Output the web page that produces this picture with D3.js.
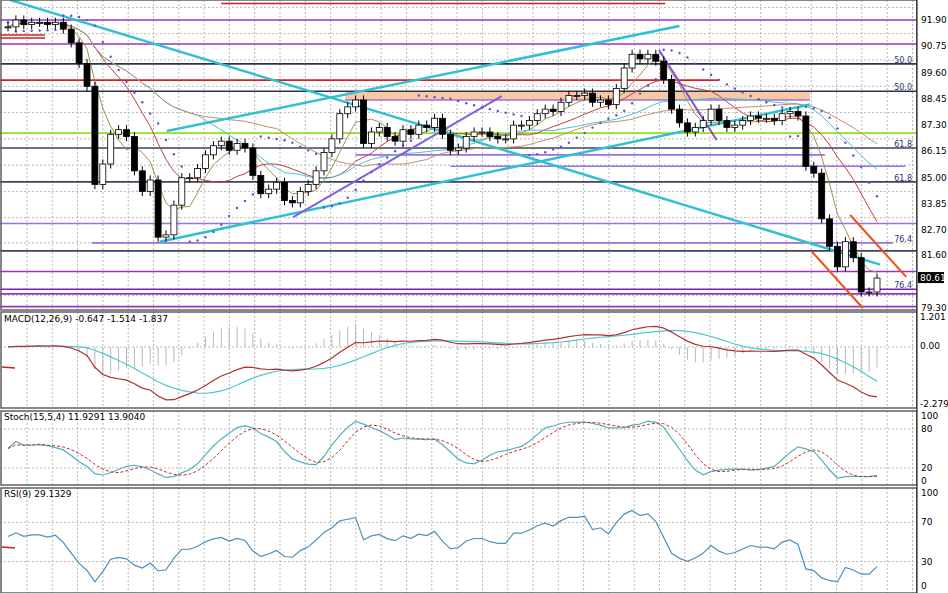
<!DOCTYPE html>
<html>
<head>
<meta charset="utf-8">
<script src="https://cdn.jsdelivr.net/npm/d3@7"></script>
<style>
  body { margin: 0; background: #fff; }
  text { font-family: Tahoma, "DejaVu Sans", sans-serif; font-size: 9px; fill: #000; }
</style>
</head>
<body>
<svg id="chart" width="948" height="593"></svg>
<script>
// daily closes
const closes = [91.6, 91.9, 91.7, 91.8, 91.8, 91.7, 91.8, 91.5, 90.9, 90.0,
  89.0, 84.7, 85.6, 86.9, 87.1, 86.8, 85.3, 84.4, 84.9, 82.4,
  82.5, 83.8, 85.0, 85.0, 85.4, 86.0, 86.4, 86.6, 86.2, 86.5,
  86.3, 85.1, 84.3, 84.5, 84.8, 84.0, 83.9, 84.4, 84.7, 85.3,
  86.1, 86.7, 87.8, 88.1, 88.4, 86.5, 87.0, 87.2, 86.8, 86.6,
  87.1, 86.9, 87.3, 87.2, 87.6, 86.9, 86.2, 86.3, 86.8, 87.0,
  87.0, 86.8, 86.7, 86.7, 87.3, 87.3, 87.5, 87.8, 88.0, 87.9,
  88.3, 88.6, 88.6, 88.7, 88.3, 88.4, 88.2, 88.9, 89.8, 90.4,
  90.2, 90.4, 90.1, 89.3, 88.0, 87.4, 87.0, 87.2, 87.5, 88.0,
  87.5, 87.2, 87.3, 87.5, 87.7, 87.6, 87.6, 87.5, 87.8, 87.9,
  87.7, 85.5, 85.2, 83.2, 82.0, 81.1, 82.2, 81.5, 80.0, 80.0, 80.61];

const priceTicks = [91.90, 90.75, 89.60, 88.45, 87.30, 86.15, 85.00, 83.85, 82.70, 81.60, 79.30];
const macdTicks = ['1.201', '0.00', '-2.279'];
const stochTicks = [100, 80, 20, 0];
const rsiTicks = [100, 70, 30, 0];

// horizontal levels: [price, colour, from index, to index, label]
const levels = [
  [92.62, '#d42020', 27, 83.2, ''],
  [91.90, '#9a30c8', -1, 115, ''],
  [90.85, '#9a30c8', -1, 115, ''],
  [89.98, '#303050', -1, 115, '50.0'],
  [89.27, '#d42020', -1, 89.9, ''],
  [88.78, '#303050', -1, 115, '50.0'],
  [88.40, '#9a70e0', 42.7, 101.5, ''],
  [86.95, '#90e020', -1, 115, ''],
  [86.30, '#404060', -1, 115, '61.8'],
  [86.00, '#9a70e0', 44, 103.4, ''],
  [85.50, '#9a70e0', 56, 113.6, ''],
  [84.82, '#404060', -1, 115, '61.8'],
  [83.00, '#9a70e0', -1, 115, ''],
  [82.15, '#9a70e0', 10.6, 112, '76.4'],
  [81.80, '#404060', -1, 115, ''],
  [80.90, '#9a30c8', -1, 115, ''],
  [80.12, '#8020c0', -1, 115, '76.4'],
  [79.92, '#9a30c8', -1, 115, ''],
  [79.36, '#9a30c8', -1, 115, '']
];

// trend lines: [i1, p1, i2, p2, colour, width]
const trends = [
  [0.3, 92.77, 110.4, 81.20, '#30c0d0', 2.5],
  [20.1, 87.04, 85.0, 91.64, '#30c0d0', 2.5],
  [19.2, 82.20, 101.5, 88.20, '#30c0d0', 2.5],
  [36.1, 83.28, 62.5, 88.57, '#8060e0', 2],
  [82.4, 90.59, 89.7, 86.65, '#8050d0', 2],
  [106.6, 83.37, 113.7, 80.66, '#f05010', 2],
  [101.8, 81.75, 108.2, 79.30, '#f05010', 2]
];

const svg = d3.select('#chart');
const W = 917;
const x = d3.scaleLinear().domain([0, 110]).range([8, 877]);
const y = d3.scaleLinear().domain([79.30, 91.90]).range([308, 20]);
const yMacd = d3.scaleLinear().domain([-2.279, 1.201]).range([404, 317]);
const yStoch = d3.scaleLinear().domain([0, 100]).range([481, 416]);
const yRsi = d3.scaleLinear().domain([0, 100]).range([591, 493]);

const panels = [[0, 310], [312, 408], [411, 485], [488, 593]];

// vertical grid
const vgrid = d3.range(27, W, 25.3);
panels.forEach(p => {
  svg.append('g').selectAll('line').data(vgrid).join('line')
    .attr('x1', d => d).attr('x2', d => d).attr('y1', p[0]).attr('y2', p[1])
    .attr('stroke', '#b8b8b8').attr('stroke-dasharray', '2,2');
});
function hgrid(vals, sc) {
  svg.append('g').selectAll('line').data(vals).join('line')
    .attr('x1', 0).attr('x2', W).attr('y1', d => sc(d)).attr('y2', d => sc(d))
    .attr('stroke', '#b8b8b8').attr('stroke-dasharray', '2,2');
}
hgrid(priceTicks.map(d => d + 0.55), y);
hgrid([0], yMacd);
hgrid([80, 20], yStoch);
hgrid([70, 30], yRsi);

// levels
const lv = svg.append('g');
levels.forEach(l => {
  if (l[0] === 88.40) {
    lv.append('rect').attr('x', x(l[2])).attr('width', x(l[3]) - x(l[2]))
      .attr('y', y(88.75)).attr('height', y(88.40) - y(88.75)).attr('fill', '#f8c8a0');
  }
  lv.append('line').attr('x1', Math.max(0, x(l[2]))).attr('x2', Math.min(W, x(l[3])))
    .attr('y1', y(l[0])).attr('y2', y(l[0])).attr('stroke', l[1]).attr('stroke-width', 1.6);
  if (l[4]) lv.append('text').attr('x', 912).attr('y', y(l[0]) - 1).attr('text-anchor', 'end')
    .style('fill', '#303070').style('font-size', '8px').text(l[4]);
});
lv.append('line').attr('x1', 0).attr('x2', 45).attr('y1', 35).attr('y2', 35).attr('stroke', '#d42020').attr('stroke-width', 1.5);
lv.append('line').attr('x1', 0).attr('x2', 45).attr('y1', 38).attr('y2', 38).attr('stroke', '#d42020').attr('stroke-width', 1.5);

// moving averages
function sma(a, n) { return a.map((v, i) => d3.mean(a.slice(Math.max(0, i - n + 1), i + 1))); }
function ema(a, n) { const k = 2 / (n + 1); let e = a[0]; return a.map(v => (e = v * k + e * (1 - k))); }
const line = (sc) => d3.line().x((d, i) => x(i)).y(d => sc(d));
[[sma(closes, 5), '#a09050'], [sma(closes, 12), '#c04040'], [sma(closes, 25), '#50c0d0'], [sma(closes, 35), '#c09070']]
  .forEach(m => svg.append('path').datum(m[0]).attr('d', line(y)).attr('fill', 'none').attr('stroke', m[1]).attr('stroke-width', 1));

// trend lines
svg.append('g').selectAll('line').data(trends).join('line')
  .attr('x1', d => x(d[0])).attr('y1', d => y(d[1])).attr('x2', d => x(d[2])).attr('y2', d => y(d[3]))
  .attr('stroke', d => d[4]).attr('stroke-width', d => d[5]);

// parabolic SAR
const hi = closes.map((c, i) => Math.max(c, i ? closes[i - 1] : c) + 0.2);
const lo = closes.map((c, i) => Math.min(c, i ? closes[i - 1] : c) - 0.2);
const sar = [];
let up = false, af = 0.02, ep = lo[0], s = hi[0];
for (let i = 0; i < closes.length; i++) {
  if (i > 0) {
    s = s + af * (ep - s);
    if (up && lo[i] < s) { up = false; s = ep; ep = lo[i]; af = 0.02; }
    else if (!up && hi[i] > s) { up = true; s = ep; ep = hi[i]; af = 0.02; }
    else if (up && hi[i] > ep) { ep = hi[i]; af = Math.min(0.2, af + 0.02); }
    else if (!up && lo[i] < ep) { ep = lo[i]; af = Math.min(0.2, af + 0.02); }
  }
  sar.push(s);
}
svg.append('g').selectAll('circle').data(sar).join('circle')
  .attr('cx', (d, i) => x(i)).attr('cy', d => y(d)).attr('r', 1.2).attr('fill', '#6050d0');

// candles
const cg = svg.append('g').selectAll('g').data(closes).join('g');
cg.append('line').attr('x1', (d, i) => x(i)).attr('x2', (d, i) => x(i))
  .attr('y1', (d, i) => y(hi[i])).attr('y2', (d, i) => y(lo[i])).attr('stroke', '#000');
cg.append('rect').attr('x', (d, i) => x(i) - 3).attr('width', 6)
  .attr('y', (d, i) => y(Math.max(d, i ? closes[i - 1] : d)))
  .attr('height', (d, i) => Math.max(1, Math.abs(y(d) - y(i ? closes[i - 1] : d))))
  .attr('fill', (d, i) => i && d < closes[i - 1] ? '#000' : '#fff').attr('stroke', '#000').attr('stroke-width', 0.8);

// MACD
const macd = ema(closes, 12).map((v, i) => v - ema(closes, 26)[i]);
const signal = sma(macd, 9);
svg.append('g').selectAll('line').data(macd).join('line')
  .attr('x1', (d, i) => x(i)).attr('x2', (d, i) => x(i)).attr('y1', yMacd(0))
  .attr('y2', (d, i) => yMacd((d - signal[i]) * 1.3)).attr('stroke', '#b8b8b8');
svg.append('path').datum(signal).attr('d', line(yMacd)).attr('fill', 'none').attr('stroke', '#50c8d0').attr('stroke-width', 1.2);
svg.append('path').datum(macd).attr('d', line(yMacd)).attr('fill', 'none').attr('stroke', '#b03030').attr('stroke-width', 1.2);

// Stochastic
const kRaw = closes.map((c, i) => {
  const w = closes.slice(Math.max(0, i - 14), i + 1);
  const h = d3.max(w) + 0.2, l = d3.min(w) - 0.2;
  return 100 * (c - l) / (h - l);
});
const kLine = sma(kRaw, 5), dLine = sma(kLine, 4);
svg.append('path').datum(kLine).attr('d', line(yStoch)).attr('fill', 'none').attr('stroke', '#50b0c0').attr('stroke-width', 1.2);
svg.append('path').datum(dLine).attr('d', line(yStoch)).attr('fill', 'none').attr('stroke', '#c03030').attr('stroke-dasharray', '3,2');

// RSI
const rsi = [];
let ag = 0.25, al = 0.2;
closes.forEach((c, i) => {
  const ch = i ? c - closes[i - 1] : 0;
  ag = (ag * 8 + Math.max(ch, 0)) / 9; al = (al * 8 + Math.max(-ch, 0)) / 9;
  rsi.push(100 - 100 / (1 + ag / al));
});
svg.append('path').datum(rsi).attr('d', line(yRsi)).attr('fill', 'none').attr('stroke', '#4a90c0').attr('stroke-width', 1.2);

svg.append('line').attr('x1', 2).attr('x2', 15).attr('y1', 367).attr('y2', 368).attr('stroke', '#d02020').attr('stroke-width', 1.5);
svg.append('line').attr('x1', 2).attr('x2', 15).attr('y1', 547).attr('y2', 548).attr('stroke', '#d02020').attr('stroke-width', 1.5);

// frames and separators
panels.forEach(p => svg.append('rect').attr('x', 1).attr('y', p[0]).attr('width', W - 1).attr('height', p[1] - p[0])
  .attr('fill', 'none').attr('stroke', '#606060').attr('stroke-width', 1.5));
svg.append('rect').attr('x', W).attr('y', 0).attr('width', 948 - W).attr('height', 593).attr('fill', '#fff');
svg.append('line').attr('x1', W).attr('x2', W).attr('y1', 0).attr('y2', 593).attr('stroke', '#000');

// right axis labels
const ax = svg.append('g');
priceTicks.forEach(t => ax.append('text').attr('x', 921).attr('y', y(t) + 3).text(t.toFixed(2)));
macdTicks.forEach((t, i) => ax.append('text').attr('x', 920).attr('y', [320, 349, 407][i]).text(t));
stochTicks.forEach(t => ax.append('text').attr('x', 921).attr('y', yStoch(t) + 3).text(t));
rsiTicks.forEach(t => ax.append('text').attr('x', 921).attr('y', Math.min(589, yRsi(t) + 3)).text(t));
const last = closes[closes.length - 1];
ax.append('rect').attr('x', 918).attr('y', y(last) - 6).attr('width', 26).attr('height', 11).attr('fill', '#000');
ax.append('text').attr('x', 920).attr('y', y(last) + 3).style('fill', '#fff').text(last.toFixed(2));

// panel titles
svg.append('text').attr('x', 4).attr('y', 322).text('MACD(12,26,9) -0.647 -1.514 -1.837');
svg.append('text').attr('x', 4).attr('y', 420).text('Stoch(15,5,4) 11.9291 13.9040');
svg.append('text').attr('x', 4).attr('y', 497).text('RSI(9) 29.1329');
</script>
</body>
</html>
